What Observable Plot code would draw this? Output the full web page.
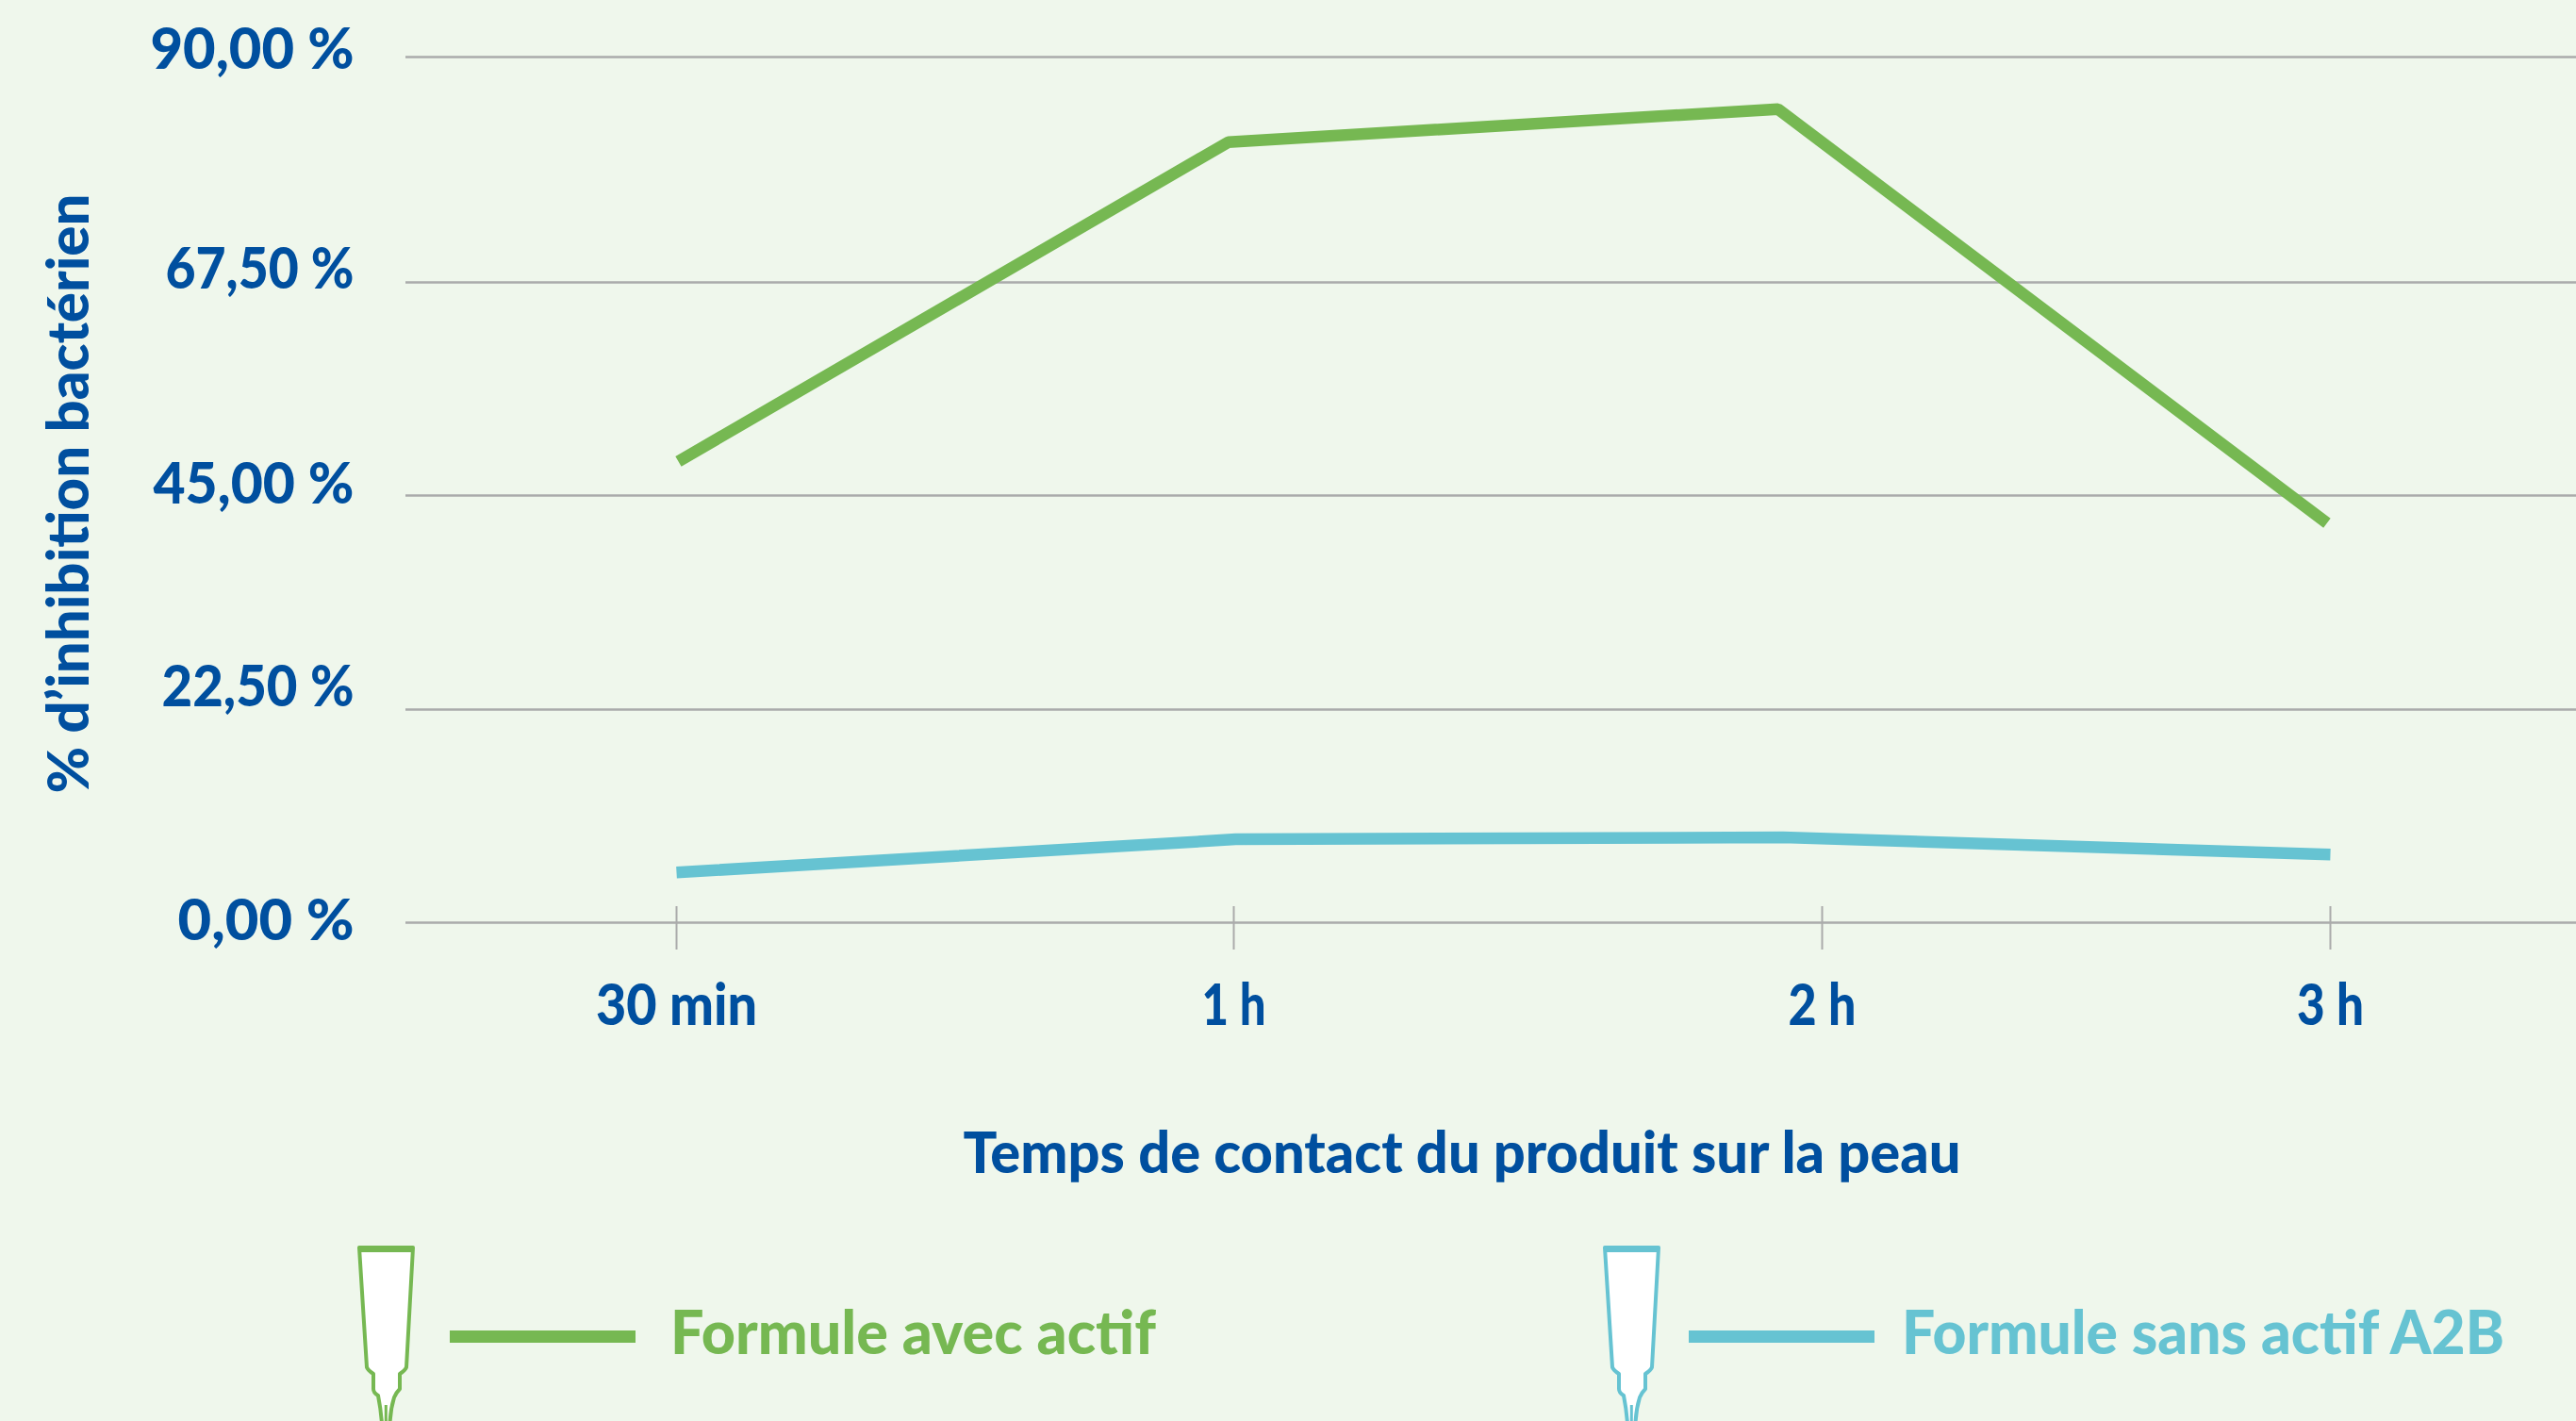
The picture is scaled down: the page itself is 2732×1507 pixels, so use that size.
<!DOCTYPE html>
<html lang="fr">
<head>
<meta charset="utf-8">
<script src="https://cdn.jsdelivr.net/npm/d3@7"></script>
<script src="https://cdn.jsdelivr.net/npm/@observablehq/plot@0.6"></script>
<style>
html,body{margin:0;padding:0;background:#eff7ec;width:2732px;height:1507px;overflow:hidden}
#chart{position:absolute;left:0;top:0}
#legend{position:absolute;left:0;top:1290px}
svg text{font-family:Lato,sans-serif;font-weight:900}
</style>
</head>
<body>
<div id="chart"></div>
<div id="legend"></div>
<script>
const timeTicks = [30, 60, 120, 180];
const timeLabels = ["30 min", "1 h", "2 h", "3 h"];
const yTicks = [0, 22.5, 45, 67.5, 90];
const yLabels = ["0,00 %", "22,50 %", "45,00 %", "67,50 %", "90,00 %"];
const avecTime = [30.1, 59.7, 115.5, 179.6];
const avecValues = [48.6, 81.5, 84.8, 42.1];
const sansTime = [30, 60.2, 116, 180];
const sansValues = [5.3, 8.8, 9.0, 7.2];
const yLabelShift = [-1, -23, -11, -13, -7];
// Drawn widths of the labels in the reference, whose face is narrower than Lato.
const labelWidths = {
  "0,00 %": 187, "22,50 %": 204, "45,00 %": 213, "67,50 %": 200, "90,00 %": 216,
  "30 min": 171, "1 h": 68, "2 h": 72, "3 h": 71,
  "Temps de contact du produit sur la peau": 1058
};

const navy = "#004f9f", green = "#76b852", blue = "#66c3d2", grey = "#aaabab";
const series = (t, v) => t.map((x, i) => ({x, y: v[i]}));

const plot = Plot.plot({
  width: 2732, height: 1290,
  marginLeft: 430, marginRight: 0, marginTop: 60, marginBottom: 312,
  style: {background: "transparent", fontSize: "60px", overflow: "visible"},
  x: {type: "linear", domain: timeTicks, range: [717, 1308, 1932, 2471]},
  y: {type: "linear", domain: yTicks, range: [978, 752, 525, 299, 60]},
  marks: [
    Plot.ruleY(yTicks, {stroke: grey, strokeWidth: 2.6}),
    Plot.axisX({ticks: timeTicks, tickFormat: d => timeLabels[timeTicks.indexOf(d)], label: null,
      tickSize: 46, dy: -17, tickPadding: 37, stroke: grey, strokeWidth: 2, strokeOpacity: 1,
      fill: navy, fontSize: 60, textStroke: "none"}),
    ...yTicks.map((t, i) => Plot.axisY([t], {
      tickSize: 0, tickPadding: 55, dy: yLabelShift[i], label: null,
      tickFormat: () => yLabels[i], fill: navy, fontSize: 60})),
    Plot.line(series(avecTime, avecValues), {x: "x", y: "y", stroke: green, strokeWidth: 12.5, strokeLinecap: "butt", strokeLinejoin: "miter"}),
    Plot.line(series(sansTime, sansValues), {x: "x", y: "y", stroke: blue, strokeWidth: 12.5, strokeLinecap: "butt", strokeLinejoin: "miter"}),
    Plot.text(["Temps de contact du produit sur la peau"], {frameAnchor: "bottom", dx: -31, dy: 265, fill: navy, fontSize: 60, text: d => d}),
    Plot.text(["% d’inhibition bactérien"], {frameAnchor: "left", textAnchor: "middle", rotate: -90, dx: -356, dy: 4, fill: navy, fontSize: 60, text: d => d})
  ]
});
document.getElementById("chart").append(plot);

plot.querySelectorAll("text").forEach(t => {
  const w = labelWidths[t.textContent];
  if (w) {
    t.setAttribute("textLength", w);
    t.setAttribute("lengthAdjust", "spacingAndGlyphs");
  }
});

const tube = (dx, c) => `<g transform="translate(${dx},-1290)">
<path d="M381,1323 L438,1323 L431,1450 Q430,1453 424,1457 L424,1473 Q420,1477 418,1482 Q414,1495 413.5,1510 L405,1510 Q404,1495 401,1480 Q396,1477 396,1473 L396,1457 Q390,1453 389,1450 Z" fill="#fff" stroke="${c}" stroke-width="4" stroke-linejoin="round"/>
<path d="M380,1325 L439,1325" stroke="${c}" stroke-width="6"/>
<path d="M409.3,1490 L409.3,1510" stroke="${c}" stroke-width="3"/>
</g>`;
document.getElementById("legend").innerHTML = `<svg width="2732" height="217" style="display:block">
${tube(0, green)}${tube(1321, blue)}
<rect x="477" y="121" width="197" height="13" fill="${green}"/>
<rect x="1791" y="121" width="197" height="13" fill="${blue}"/>
<text x="711" y="146" font-size="64" fill="${green}" textLength="515" lengthAdjust="spacingAndGlyphs">Formule avec actif</text>
<text x="2017" y="146" font-size="64" fill="${blue}" textLength="639" lengthAdjust="spacingAndGlyphs">Formule sans actif A2B</text>
</svg>`;
</script>
</body>
</html>
